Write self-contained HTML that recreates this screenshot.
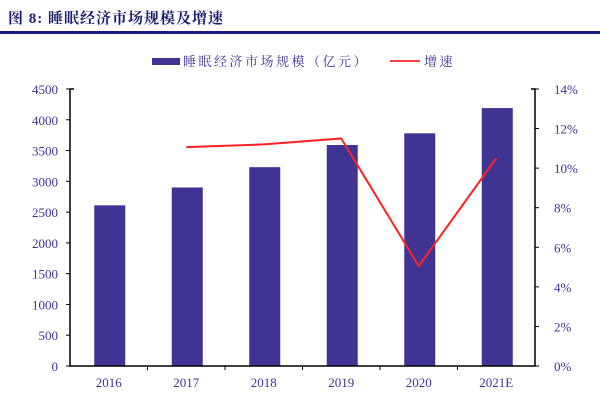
<!DOCTYPE html>
<html><head><meta charset="utf-8"><style>
body{margin:0;background:#fff;width:600px;height:400px;overflow:hidden}
svg{font-family:"Liberation Serif","Noto Serif CJK SC",serif}
</style></head><body>
<svg width="600" height="400">
<text x="8" y="23" font-size="15" font-weight="bold" fill="#1a1a6e" letter-spacing="1" font-family="Liberation Serif, Noto Serif CJK SC, serif">图 8:  睡眠经济市场规模及增速</text>
<rect x="0" y="31" width="600" height="3" fill="#1a1a7a"/>
<g>
<rect x="152" y="58" width="28" height="7" fill="#3f3394"/>
<text x="183" y="66" font-size="13" fill="#3f3394" letter-spacing="2.5">睡眠经济市场规模（亿元）</text>
<line x1="390" y1="61" x2="420" y2="61" stroke="#f00" stroke-width="1.5"/>
<text x="424" y="66" font-size="13" fill="#3f3394" letter-spacing="2.5">增速</text>
</g>
<g id="plot"></g>
</svg>
<script>
const categories=["2016","2017","2018","2019","2020","2021E"];
const marketSize=[2610,2900,3230,3590,3780,4190];
const growth=[null,11.06,11.2,11.5,5.05,10.5];
const leftTicks=[0,500,1000,1500,2000,2500,3000,3500,4000,4500];
const rightTicks=[0,2,4,6,8,10,12,14];
const X0=70,X1=535,Y0=366,Y1=89;
const cw=(X1-X0)/categories.length;
const xc=i=>X0+cw*(i+0.5);
const yL=v=>Y0-(v/4500)*(Y0-Y1);
const yR=v=>Y0-(v/14)*(Y0-Y1);
const g=document.getElementById('plot');
const NS="http://www.w3.org/2000/svg";
function mk(t,a){const e=document.createElementNS(NS,t);for(const k in a)e.setAttribute(k,a[k]);g.appendChild(e);return e;}
marketSize.forEach((v,i)=>{
 const r=mk('rect',{x:xc(i)+1-15.5,y:yL(v),width:31,height:Y0-yL(v),fill:'#3f3394'});
 
 
});
let a=mk('path',{d:`M${X0+4},${Y1} H${X0} V${Y0} H${X1} V${Y1} H${X1-4}`,fill:'none',stroke:'#000','stroke-width':1.5});


leftTicks.forEach(v=>{
 const t=mk('text',{x:X0-12,y:yL(v)+5,'font-size':13,fill:'#3f3394','text-anchor':'end'});t.textContent=v;
 
 
 mk('line',{x1:X0-4,x2:X0,y1:yL(v),y2:yL(v),stroke:'#000'});
});
rightTicks.forEach(v=>{
 const t=mk('text',{x:X1+19,y:yR(v)+5,'font-size':13,fill:'#3f3394'});t.textContent=v+'%';
 
 
 mk('line',{x1:X1,x2:X1+4,y1:yR(v),y2:yR(v),stroke:'#000'});
});
categories.forEach((c,i)=>{
 const t=mk('text',{x:xc(i),y:Y0+21,'font-size':13,fill:'#3f3394','text-anchor':'middle'});t.textContent=c;
 
 
 if(i>0)mk('line',{x1:X0+cw*i,x2:X0+cw*i,y1:Y0,y2:Y0+4,stroke:'#000'});
});
let pts=[];growth.forEach((v,i)=>{if(v!==null)pts.push(xc(i)+','+yR(v));});
const l=mk('polyline',{points:pts.join(' '),fill:'none',stroke:'#f22','stroke-width':2});


</script>
</body></html>
